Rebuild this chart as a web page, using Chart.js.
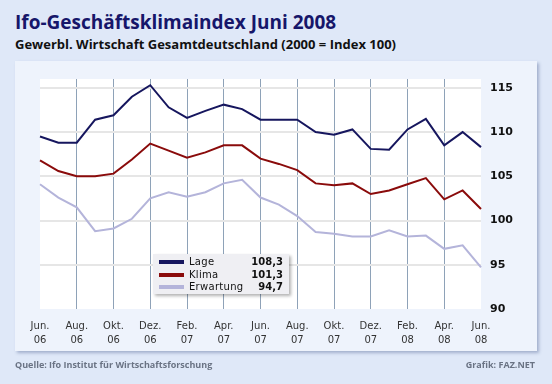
<!DOCTYPE html>
<html>
<head>
<meta charset="utf-8">
<script src="https://cdn.jsdelivr.net/npm/chart.js@4"></script>
<style>
  body { margin: 0; width: 552px; height: 384px; overflow: hidden; background: #dfe8f8; position: relative; }
  #title { position: absolute; left: 15px; top: 9px; font: bold 19px "Open Sans"; color: #16166a; white-space: nowrap; }
  #subtitle { position: absolute; left: 15px; top: 35px; font: bold 13px "Open Sans"; color: #111; white-space: nowrap; }
  #panel { position: absolute; left: 15px; top: 61px; width: 522px; height: 290px; background: #eef3fc; box-shadow: 2px 2px 3px rgba(70, 90, 140, 0.4); }
  #chart { position: absolute; left: 0; top: 0; }
  #legend { position: absolute; left: 153px; top: 254px; width: 136px; height: 40px; background: #efeff3; box-shadow: 2px 2px 3px rgba(0, 0, 0, 0.3); font: 10px "DejaVu Sans"; color: #111; }
  .row { position: absolute; left: 0; width: 136px; height: 13px; line-height: 13px; }
  .sw { position: absolute; left: 6px; top: 5px; width: 25px; height: 4px; }
  .name { position: absolute; left: 36px; letter-spacing: 0.3px; }
  .val { position: absolute; right: 6px; font-weight: bold; }
  .foot { position: absolute; top: 358px; font: bold 9px "Open Sans"; color: #6a7384; }
</style>
</head>
<body>
<div id="title">Ifo-Geschäftsklimaindex Juni 2008</div>
<div id="subtitle">Gewerbl. Wirtschaft Gesamtdeutschland (2000 = Index 100)</div>
<div id="panel"></div>
<canvas id="chart" width="552" height="384"></canvas>
<div id="legend"></div>
<div class="foot" style="left:15px">Quelle: Ifo Institut für Wirtschaftsforschung</div>
<div class="foot" style="right:17px">Grafik: FAZ.NET</div>
<script>
const months = ["Jun.", "Jul.", "Aug.", "Sep.", "Okt.", "Nov.", "Dez.", "Jan.", "Feb.", "Mär.", "Apr.", "Mai",
                "Jun.", "Jul.", "Aug.", "Sep.", "Okt.", "Nov.", "Dez.", "Jan.", "Feb.", "Mär.", "Apr.", "Mai", "Jun."];
const years = ["06", "06", "06", "06", "06", "06", "06", "07", "07", "07", "07", "07",
               "07", "07", "07", "07", "07", "07", "07", "08", "08", "08", "08", "08", "08"];

const lage = [109.5, 108.8, 108.8, 111.4, 111.9, 114.0, 115.3, 112.8, 111.6, 112.4, 113.1, 112.6,
              111.4, 111.4, 111.4, 110.0, 109.7, 110.3, 108.1, 108.0, 110.3, 111.5, 108.5, 110.0, 108.3];
const klima = [106.8, 105.6, 105.0, 105.0, 105.3, 106.9, 108.7, 107.9, 107.1, 107.7, 108.5, 108.5,
               107.0, 106.4, 105.7, 104.2, 104.0, 104.2, 103.0, 103.4, 104.1, 104.8, 102.4, 103.4, 101.3];
const erwartung = [104.1, 102.6, 101.5, 98.8, 99.1, 100.2, 102.5, 103.2, 102.7, 103.2, 104.2, 104.6,
                   102.6, 101.8, 100.5, 98.7, 98.5, 98.2, 98.2, 98.9, 98.2, 98.3, 96.8, 97.2, 94.7];

const yTicks = [90, 95, 100, 105, 110, 115];

const series = [
  { name: "Lage", data: lage, color: "#16165e" },
  { name: "Klima", data: klima, color: "#8a0b0b" },
  { name: "Erwartung", data: erwartung, color: "#b4b4da" }
];

const labels = months.map((m, i) => [m, years[i]]);

// legend box with the latest values
const legendEl = document.getElementById("legend");
series.forEach((s, i) => {
  const last = s.data[s.data.length - 1].toFixed(1).replace(".", ",");
  const row = document.createElement("div");
  row.className = "row";
  row.style.top = (1 + i * 12.6) + "px";
  row.innerHTML = `<span class="sw" style="background:${s.color}"></span><span class="name">${s.name}</span><span class="val">${last}</span>`;
  legendEl.appendChild(row);
});

const plotBg = {
  id: "plotBg",
  beforeDraw(chart) {
    const { ctx, chartArea: a } = chart;
    ctx.save();
    ctx.fillStyle = "#ffffff";
    ctx.fillRect(a.left, a.top, a.right - a.left, a.bottom - a.top);
    ctx.restore();
  }
};

new Chart(document.getElementById("chart"), {
  type: "line",
  data: {
    labels: labels,
    datasets: series.map(s => ({
      label: s.name,
      data: s.data,
      borderColor: s.color,
      borderWidth: 2,
      pointRadius: 0,
      tension: 0
    }))
  },
  options: {
    responsive: false,
    animation: false,
    devicePixelRatio: 1,
    layout: { padding: { left: 40, top: 79, right: 0, bottom: 0 } },
    plugins: { legend: { display: false }, tooltip: { enabled: false } },
    scales: {
      x: {
        offset: false,
        afterFit: s => { s.height = 75; },
        border: { display: false },
        grid: {
          drawTicks: false,
          lineWidth: 1,
          color: c => (c.index % 2 === 0 && c.index > 0 && c.index < labels.length - 1) ? "#8ea2b8" : "transparent"
        },
        ticks: {
          autoSkip: false,
          maxRotation: 0,
          padding: 11,
          color: "#333",
          font: { family: "DejaVu Sans", size: 10, lineHeight: 1.35 },
          callback: (v, i) => i % 2 === 0 ? labels[i] : ""
        }
      },
      y: {
        position: "right",
        min: 90,
        max: 116,
        afterBuildTicks: s => { s.ticks = yTicks.map(v => ({ value: v })); },
        afterFit: s => { s.width = 71; },
        border: { display: false },
        grid: {
          drawTicks: false,
          lineWidth: 2,
          color: c => c.tick && c.tick.value === 90 ? "transparent" : "#e6e6e6"
        },
        ticks: {
          padding: 9,
          color: "#111",
          font: { family: "DejaVu Sans", size: 11, weight: "bold" }
        }
      }
    }
  },
  plugins: [plotBg]
});
</script>
</body>
</html>
